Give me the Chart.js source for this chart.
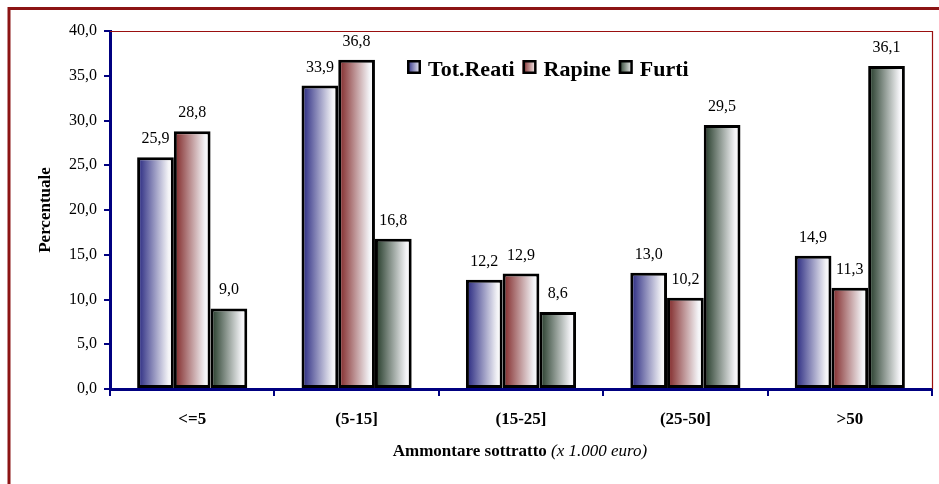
<!DOCTYPE html>
<html>
<head>
<meta charset="utf-8">
<script src="https://cdn.jsdelivr.net/npm/chart.js@4/dist/chart.umd.min.js"></script>
<style>
  html, body { margin: 0; padding: 0; background: #ffffff; }
  #wrap { width: 939px; height: 484px; position: relative; }
</style>
</head>
<body>
<div id="wrap"><canvas id="c" width="939" height="484"></canvas></div>
<script>
// ---- data ----
const categories = ['<=5', '(5-15]', '(15-25]', '(25-50]', '>50'];
const seriesNames = ['Tot.Reati', 'Rapine', 'Furti'];
const totReati = [25.9, 33.9, 12.2, 13.0, 14.9];
const rapine   = [28.8, 36.8, 12.9, 10.2, 11.3];
const furti    = [9.0, 16.8, 8.6, 29.5, 36.1];
const yMin = 0, yMax = 40, yStep = 5;
const yTitle = 'Percentuale';
const xTitleBold = 'Ammontare sottratto';
const xTitleItalic = '(x 1.000 euro)';

// ---- styles ----
const darkColors = ['#23237d', '#7d2222', '#1f3624'];
const SERIF = '"Liberation Serif", "Times New Roman", serif';
const CAT_PCT = 0.67;

function fmt(v) { return v.toFixed(1).replace('.', ','); }

function barGradient(c) {
  const chart = c.chart;
  const dark = darkColors[c.datasetIndex];
  const xs = chart.scales && chart.scales.x;
  if (!xs || c.dataIndex === undefined || !isFinite(xs.width) || xs.width <= 0) return dark;
  const n = categories.length;
  const catW = xs.width / n;
  const groupW = catW * CAT_PCT;
  const barW = groupW / chart.data.datasets.length;
  const center = xs.getPixelForValue(c.dataIndex);
  const left = center - groupW / 2 + c.datasetIndex * barW;
  const g = chart.ctx.createLinearGradient(left, 0, left + barW, 0);
  g.addColorStop(0, dark);
  g.addColorStop(0.85, '#f3f3f6');
  g.addColorStop(1, '#ffffff');
  return g;
}

const framePlugin = {
  id: 'frame',
  beforeDraw(chart) {
    const ctx = chart.ctx;
    ctx.save();
    ctx.fillStyle = '#ffffff';
    ctx.fillRect(0, 0, chart.width, chart.height);
    ctx.restore();
  },
  beforeDatasetsDraw(chart) {
    const ctx = chart.ctx, a = chart.chartArea;
    ctx.save();
    ctx.strokeStyle = '#9a0f0f';
    ctx.lineWidth = 1.2;
    ctx.beginPath();
    ctx.moveTo(a.left, a.top + 0.5);
    ctx.lineTo(a.right + 0.5, a.top + 0.5);
    ctx.lineTo(a.right + 0.5, a.bottom);
    ctx.stroke();
    ctx.restore();
  },
  afterDraw(chart) {
    const ctx = chart.ctx, a = chart.chartArea;
    ctx.save();
    // outer frame (top and left visible, rest outside the picture)
    ctx.strokeStyle = '#8c1414';
    ctx.lineWidth = 3;
    ctx.beginPath();
    ctx.moveTo(9, chart.height + 5);
    ctx.lineTo(9, 8.5);
    ctx.lineTo(chart.width + 5, 8.5);
    ctx.stroke();

    // x axis title with bold + italic parts
    ctx.fillStyle = '#000000';
    ctx.textBaseline = 'alphabetic';
    const boldFont = 'bold 17px ' + SERIF;
    const italFont = 'italic 17px ' + SERIF;
    ctx.font = boldFont;
    const wB = ctx.measureText(xTitleBold + ' ').width;
    ctx.font = italFont;
    const wI = ctx.measureText(xTitleItalic).width;
    const cx = (a.left + a.right) / 2 - 1;
    let x0 = cx - (wB + wI) / 2;
    ctx.textAlign = 'left';
    ctx.font = boldFont;
    ctx.fillText(xTitleBold + ' ', x0, 456);
    ctx.font = italFont;
    ctx.fillText(xTitleItalic, x0 + wB, 456);

    // legend inside plot
    const ds = chart.data.datasets;
    let lx = 407;
    const baseY = 76;
    ctx.font = 'bold 22px ' + SERIF;
    for (let i = 0; i < ds.length; i++) {
      const g = ctx.createLinearGradient(lx, 0, lx + 14, 0);
      g.addColorStop(0, darkColors[i]);
      g.addColorStop(1, '#ffffff');
      ctx.fillStyle = g;
      ctx.fillRect(lx, 60, 14, 14);
      ctx.strokeStyle = '#000000';
      ctx.lineWidth = 2.5;
      ctx.strokeRect(lx + 1.25, 61.25, 11.5, 11.5);
      ctx.fillStyle = '#000000';
      ctx.fillText(ds[i].label, lx + 21, baseY);
      lx += 21 + ctx.measureText(ds[i].label).width + 8;
    }
    ctx.restore();
  },
  afterDatasetsDraw(chart) {
    const ctx = chart.ctx;
    ctx.save();
    ctx.font = '16px ' + SERIF;
    ctx.fillStyle = '#000000';
    ctx.textAlign = 'center';
    ctx.textBaseline = 'alphabetic';
    chart.data.datasets.forEach((d, di) => {
      const meta = chart.getDatasetMeta(di);
      meta.data.forEach((el, i) => {
        ctx.fillText(fmt(d.data[i]), el.x, el.y - 14);
      });
    });
    ctx.restore();
  }
};

new Chart(document.getElementById('c'), {
  type: 'bar',
  data: {
    labels: categories,
    datasets: [
      { label: seriesNames[0], data: totReati },
      { label: seriesNames[1], data: rapine },
      { label: seriesNames[2], data: furti }
    ].map(d => Object.assign(d, {
      backgroundColor: barGradient,
      borderColor: '#000000',
      borderWidth: 3,
      borderSkipped: false,
      categoryPercentage: CAT_PCT,
      barPercentage: 1.0
    }))
  },
  options: {
    responsive: false,
    devicePixelRatio: 1,
    animation: false,
    events: [],
    layout: { padding: { top: 31, right: 7, bottom: 0, left: 0 } },
    plugins: { legend: { display: false }, tooltip: { enabled: false }, title: { display: false } },
    scales: {
      x: {
        afterFit(s) { s.height = 95; },
        grid: { display: true, drawOnChartArea: false, drawTicks: true, tickLength: 7, color: '#000080', lineWidth: 2, offset: true },
        border: { display: true, color: '#000080', width: 3 },
        ticks: { color: '#000000', font: { family: SERIF, size: 17, weight: 'bold' }, padding: 13, maxRotation: 0 }
      },
      y: {
        min: yMin, max: yMax,
        afterFit(s) { s.width = 110; },
        grid: { display: true, drawOnChartArea: false, drawTicks: true, tickLength: 6, color: '#000080', lineWidth: 2 },
        border: { display: true, color: '#000080', width: 3 },
        ticks: { stepSize: yStep, color: '#000000', font: { family: SERIF, size: 16 }, padding: 7, callback: v => fmt(v) },
        title: { display: true, text: yTitle, color: '#000000', font: { family: SERIF, size: 17, weight: 'bold' }, padding: { top: 35, bottom: 0 } }
      }
    }
  },
  plugins: [framePlugin]
});
</script>
</body>
</html>
